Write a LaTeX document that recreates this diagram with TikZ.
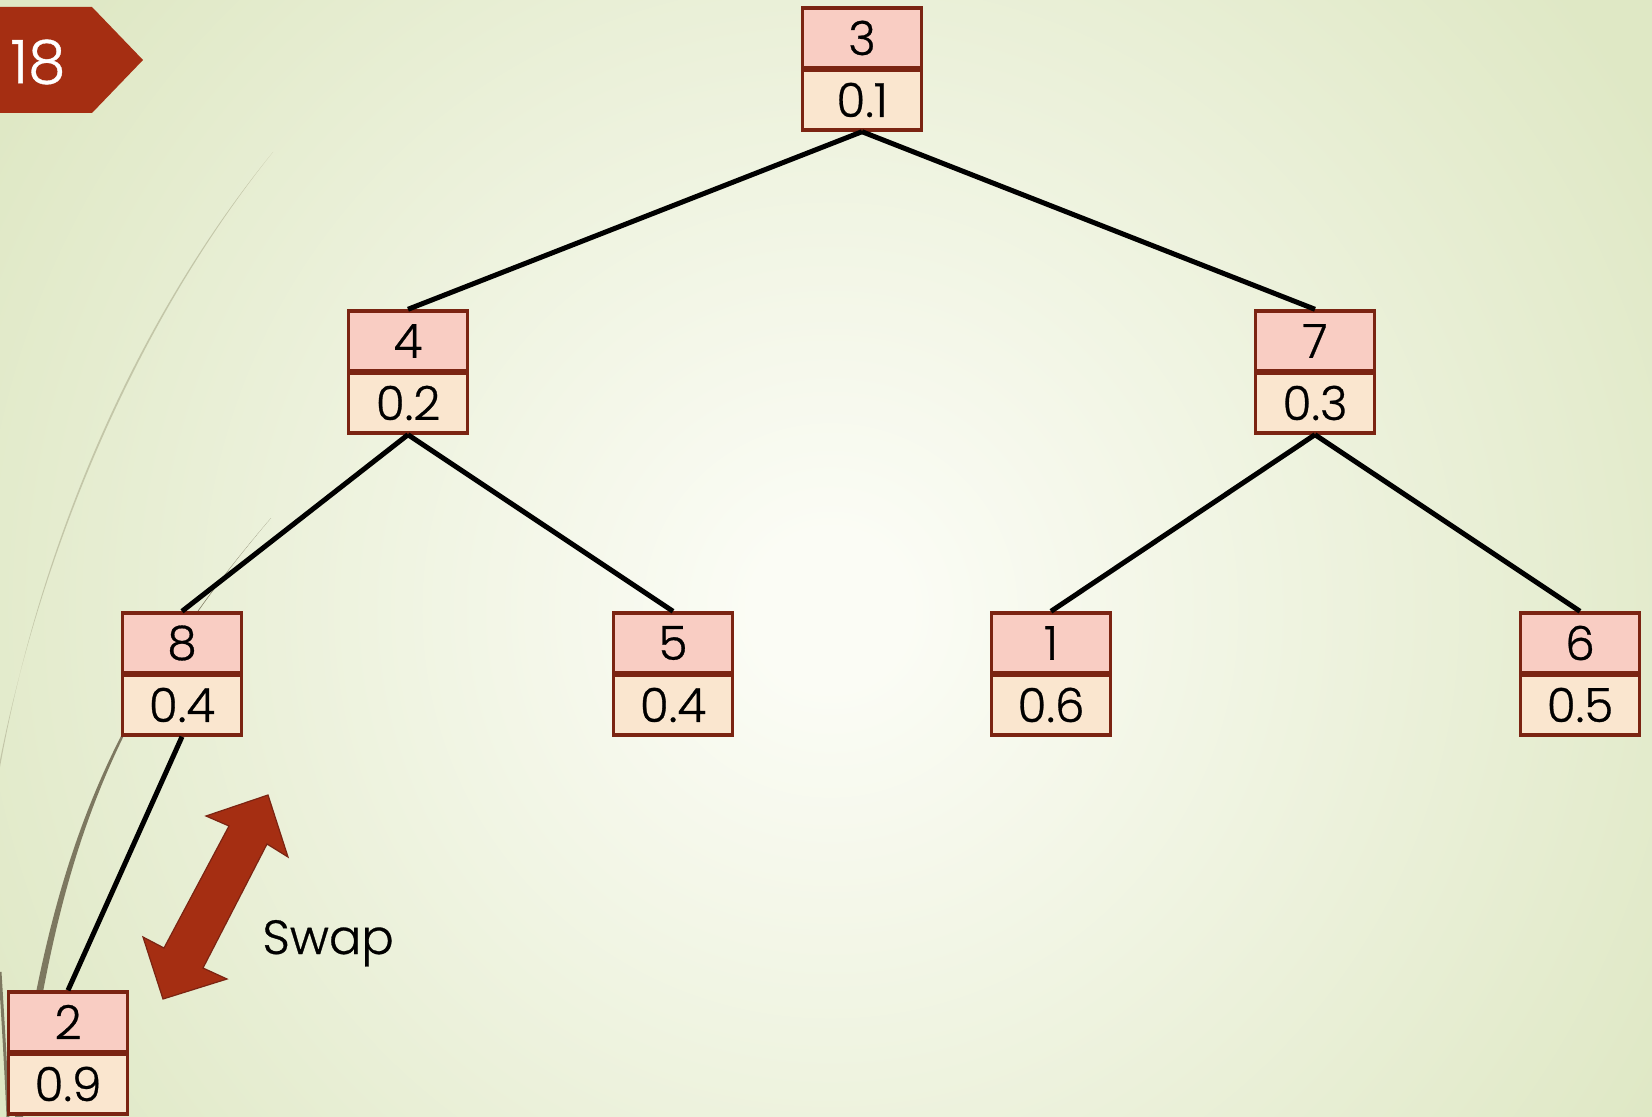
\documentclass[tikz,border=0pt]{standalone}
\usepackage{fontspec}
\IfFontExistsTF{Poppins Light}{\setmainfont{Poppins Light}[FakeBold=0.6]}{\setmainfont{Poppins}}
\definecolor{bgin}{HTML}{FBFCF5}
\definecolor{bgout}{HTML}{DFE8C5}
\definecolor{nodeborder}{HTML}{7B2412}
\definecolor{keyfill}{HTML}{F9CDC3}
\definecolor{valfill}{HTML}{FAE6CF}
\definecolor{accent}{HTML}{A52E12}
\definecolor{curvedark}{HTML}{7D7860}
\definecolor{curvelight}{HTML}{C3C6A8}
\pgfdeclareradialshading{bgshade}{\pgfpoint{0bp}{0bp}}{color(0bp)=(bgin); color(2bp)=(bgin); color(25bp)=(bgout); color(50bp)=(bgout)}
\begin{document}
\begin{tikzpicture}[x=0.5pt,y=-0.5pt,
  keybox/.style={draw=nodeborder, fill=keyfill, line width=1.7pt, minimum width=59.5pt, minimum height=30pt, inner sep=0pt, font=\fontsize{23.5}{26}\selectfont},
  valbox/.style={keybox, fill=valfill},
  edge/.style={line width=2.5pt, black},
  swaparrow/.style={fill=accent, draw=nodeborder, line width=0.6pt, line join=miter}]
\useasboundingbox (0,0) rectangle (1652,1117);
\begin{scope}
\clip (0,0) rectangle (1652,1117);
\fill[bgout] (0,0) rectangle (1652,1117);
\shade[shading=bgshade] (830,610) circle (960);
\end{scope}
% decorative curves
\fill[curvelight] (273,152) .. controls (129,332) and (40,560) .. (0,760) -- (0,767) .. controls (37,560) and (126,332) .. (273,152) -- cycle;
\fill[curvedark] (271,518) .. controls (101,718) and (57.5,867) .. (23,1117) -- (15,1117) .. controls (51,867) and (100,718) .. (271,518) -- cycle;
\draw[curvedark, line width=1.5pt] (0,972) .. controls (3,1020) and (6,1070) .. (8,1117);
% badge
\fill[accent] (0,7) -- (92,7) -- (143,60) -- (92,113) -- (0,113) -- cycle;
\node[text=white, font=\fontsize{30}{34}\selectfont, inner sep=0pt] (badge) at (38,62) {18};
% tree nodes
\node[keybox] (k3) at (862,38) {3};
\node[valbox] (v3) at (862,100) {0.1};
\node[keybox] (k4) at (408,341) {4};
\node[valbox] (v4) at (408,403) {0.2};
\node[keybox] (k7) at (1315,341) {7};
\node[valbox] (v7) at (1315,403) {0.3};
\node[keybox] (k8) at (182,643) {8};
\node[valbox] (v8) at (182,705) {0.4};
\node[keybox] (k5) at (673,643) {5};
\node[valbox] (v5) at (673,705) {0.4};
\node[keybox] (k1) at (1051,643) {1};
\node[valbox] (v1) at (1051,705) {0.6};
\node[keybox] (k6) at (1580,643) {6};
\node[valbox] (v6) at (1580,705) {0.5};
\node[keybox] (k2) at (68,1022) {2};
\node[valbox] (v2) at (68,1084) {0.9};
% edges
\draw[edge] (v3.south) -- (k4.north);
\draw[edge] (v3.south) -- (k7.north);
\draw[edge] (v4.south) -- (k8.north);
\draw[edge] (v4.south) -- (k5.north);
\draw[edge] (v7.south) -- (k1.north);
\draw[edge] (v7.south) -- (k6.north);
\draw[edge] (v8.south) -- (k2.north);
% swap arrow
\draw[swaparrow] (268,795) -- (288,857) -- (267,844) -- (203,968) -- (227,979) -- (163,999) -- (143,937) -- (164,948) -- (229,826) -- (206,816) -- cycle;
\node[font=\fontsize{24}{28}\selectfont, inner sep=0pt, anchor=base west] (swaplabel) at (262,954) {Swap};
\end{tikzpicture}
\end{document}
